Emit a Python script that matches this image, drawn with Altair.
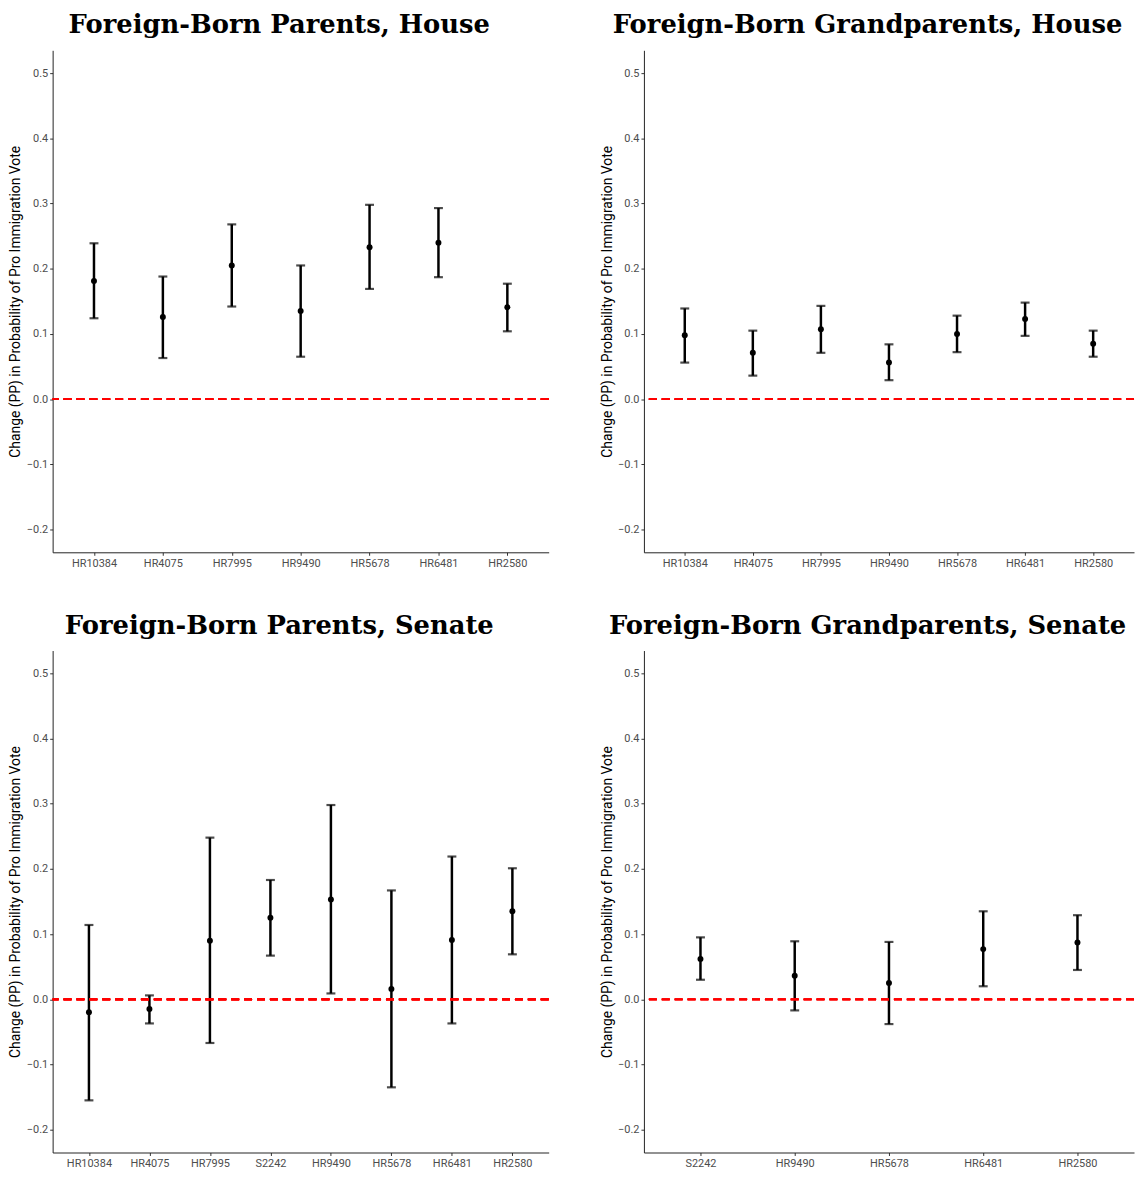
import altair as alt
import pandas as pd

Y_TITLE = "Change (PP) in Probability of Pro Immigration Vote"

# Foreign-Born Parents, House
ph_bills = ["HR10384", "HR4075", "HR7995", "HR9490", "HR5678", "HR6481", "HR2580"]
ph_est = [0.181, 0.126, 0.205, 0.135, 0.233, 0.240, 0.141]
ph_lo = [0.124, 0.063, 0.142, 0.065, 0.169, 0.187, 0.104]
ph_hi = [0.239, 0.188, 0.268, 0.205, 0.298, 0.293, 0.177]

# Foreign-Born Grandparents, House
gh_bills = ["HR10384", "HR4075", "HR7995", "HR9490", "HR5678", "HR6481", "HR2580"]
gh_est = [0.098, 0.071, 0.107, 0.056, 0.100, 0.123, 0.085]
gh_lo = [0.056, 0.036, 0.071, 0.029, 0.072, 0.097, 0.065]
gh_hi = [0.139, 0.105, 0.143, 0.084, 0.128, 0.148, 0.105]

# Foreign-Born Parents, Senate
ps_bills = ["HR10384", "HR4075", "HR7995", "S2242", "HR9490", "HR5678", "HR6481", "HR2580"]
ps_est = [-0.020, -0.015, 0.090, 0.125, 0.153, 0.016, 0.091, 0.135]
ps_lo = [-0.155, -0.037, -0.067, 0.067, 0.009, -0.135, -0.037, 0.069]
ps_hi = [0.114, 0.006, 0.248, 0.183, 0.298, 0.167, 0.219, 0.201]

# Foreign-Born Grandparents, Senate
gs_bills = ["S2242", "HR9490", "HR5678", "HR6481", "HR2580"]
gs_est = [0.062, 0.036, 0.025, 0.077, 0.087]
gs_lo = [0.030, -0.017, -0.038, 0.020, 0.045]
gs_hi = [0.095, 0.089, 0.088, 0.135, 0.129]

y_ticks = [-0.2, -0.1, 0.0, 0.1, 0.2, 0.3, 0.4, 0.5]
y_domain = [-0.235, 0.535]


def panel(title, bills, est, lo, hi, width, height):
    df = pd.DataFrame({"bill": bills, "est": est, "lo": lo, "hi": hi})
    xenc = alt.X(
        "bill:N",
        sort=bills,
        scale=alt.Scale(type="point", padding=0.6),
        axis=alt.Axis(title=None, labelAngle=0, labelPadding=2),
    )
    yscale = alt.Scale(domain=y_domain, nice=False, zero=False)
    yaxis = alt.Axis(
        title=Y_TITLE, values=y_ticks, format=".1f", titlePadding=3,
        minExtent=27, maxExtent=27,
    )
    base = alt.Chart(df)
    zero = alt.Chart(df).mark_rule(color="#FF0000", strokeDash=[8, 5], strokeWidth=1.8).encode(
        y=alt.datum(0, scale=yscale, axis=yaxis)
    )
    rule = base.mark_rule(color="black", strokeWidth=2.5).encode(
        x=xenc, y=alt.Y("lo:Q", scale=yscale, axis=yaxis), y2="hi:Q"
    )
    cap_lo = base.mark_tick(color="black", size=9, thickness=2.2).encode(
        x=xenc, y=alt.Y("lo:Q", scale=yscale, axis=yaxis)
    )
    cap_hi = base.mark_tick(color="black", size=9, thickness=2.2).encode(
        x=xenc, y=alt.Y("hi:Q", scale=yscale, axis=yaxis)
    )
    pts = base.mark_point(color="black", filled=True, opacity=1, size=36).encode(
        x=xenc, y=alt.Y("est:Q", scale=yscale, axis=yaxis)
    )
    return alt.layer(rule, cap_lo, cap_hi, pts, zero).properties(
        width=width,
        height=height,
        title=alt.TitleParams(
            title,
            font="DejaVu Serif",
            fontSize=26,
            fontWeight="bold",
            color="black",
            anchor="middle",
            frame="bounds",
            offset=12,
        ),
    )


H = 506
top = alt.hconcat(
    panel("Foreign-Born Parents, House", ph_bills, ph_est, ph_lo, ph_hi, 500, H),
    panel("Foreign-Born Grandparents, House", gh_bills, gh_est, gh_lo, gh_hi, 494, H),
    spacing=51,
)
bottom = alt.hconcat(
    panel("Foreign-Born Parents, Senate", ps_bills, ps_est, ps_lo, ps_hi, 500, H),
    panel("Foreign-Born Grandparents, Senate", gs_bills, gs_est, gs_lo, gs_hi, 494, H),
    spacing=51,
)

chart = (
    alt.vconcat(top, bottom, spacing=45)
    .properties(padding={"left": 1, "top": 0, "right": 0, "bottom": 0})
    .configure_view(stroke=None)
    .configure_axis(
        grid=False,
        domainColor="#222222",
        domainWidth=1,
        tickColor="#333333",
        tickSize=3,
        labelFont="Roboto",
        labelFontSize=11,
        labelColor="#4d4d4d",
        titleFont="Roboto",
        titleFontSize=14,
        titleFontWeight="normal",
        titleColor="black",
    )
)

chart.save("out.html", embed_options={"renderer": "svg", "actions": False})
